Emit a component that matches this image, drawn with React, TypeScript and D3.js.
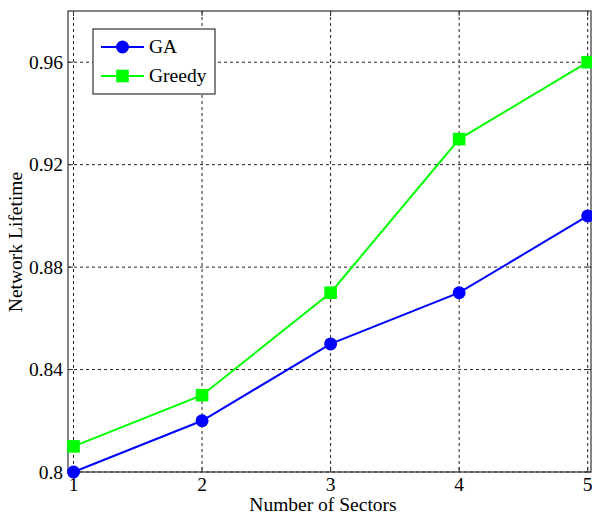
import React from "react";
import * as d3 from "d3";

const sectors = [1, 2, 3, 4, 5];
const gaValues = [0.8, 0.82, 0.85, 0.87, 0.9];
const greedyValues = [0.81, 0.83, 0.87, 0.93, 0.96];
const yTicks = [0.8, 0.84, 0.88, 0.92, 0.96];
const xTicks = [1, 2, 3, 4, 5];

const W = 592;
const H = 516;
const frame = { left: 68, right: 591, top: 11, bottom: 472 };
const font = "'Liberation Serif', 'Times New Roman', serif";
const fs = 19.5;

export default function App() {
  const x = d3.scaleLinear().domain([1, 5]).range([73.5, 587.7]);
  const y = d3.scaleLinear().domain([0.8, 0.98]).range([472, 11]);
  const line = d3
    .line<number>()
    .x((_, i) => x(sectors[i]))
    .y((v) => y(v));

  const fmtY = (v: number) => (v === 0.8 ? "0.8" : v.toFixed(2));

  return (
    <svg
      width={W}
      height={H}
      style={{ position: "absolute", left: 0, top: 0, background: "#fff" }}
      fontFamily={font}
    >
      <rect x={0} y={0} width={W} height={H} fill="#fff" />
      {/* grid */}
      {xTicks.map((t) => (
        <line
          key={"gx" + t}
          x1={x(t)}
          x2={x(t)}
          y1={frame.top}
          y2={frame.bottom}
          stroke="#222"
          strokeWidth={1}
          strokeDasharray="3,3"
        />
      ))}
      {yTicks.map((t) => (
        <line
          key={"gy" + t}
          x1={frame.left}
          x2={frame.right}
          y1={y(t)}
          y2={y(t)}
          stroke="#222"
          strokeWidth={1}
          strokeDasharray="3,3"
        />
      ))}
      {/* frame */}
      <rect
        x={frame.left}
        y={frame.top}
        width={frame.right - frame.left}
        height={frame.bottom - frame.top}
        fill="none"
        stroke="#333"
        strokeWidth={1.2}
      />
      {/* ticks */}
      {xTicks.map((t) => (
        <g key={"tx" + t}>
          <line x1={x(t)} x2={x(t)} y1={frame.bottom} y2={frame.bottom - 5} stroke="#333" />
          <line x1={x(t)} x2={x(t)} y1={frame.top} y2={frame.top + 5} stroke="#333" />
          <text x={x(t)} y={491} textAnchor="middle" fontSize={fs} fill="#000">
            {t}
          </text>
        </g>
      ))}
      {yTicks.map((t) => (
        <g key={"ty" + t}>
          <line x1={frame.left} x2={frame.left + 5} y1={y(t)} y2={y(t)} stroke="#333" />
          <line x1={frame.right} x2={frame.right - 5} y1={y(t)} y2={y(t)} stroke="#333" />
          <text x={frame.left - 5} y={y(t) + 6.5} textAnchor="end" fontSize={fs} fill="#000">
            {fmtY(t)}
          </text>
        </g>
      ))}
      {/* series */}
      <path d={line(greedyValues) || ""} fill="none" stroke="#00ff00" strokeWidth={2} />
      <path d={line(gaValues) || ""} fill="none" stroke="#0000ff" strokeWidth={2} />
      {greedyValues.map((v, i) => (
        <rect key={"gs" + i} x={x(sectors[i]) - 6.3} y={y(v) - 6.3} width={12.6} height={12.6} fill="#00ff00" />
      ))}
      {gaValues.map((v, i) => (
        <circle key={"gc" + i} cx={x(sectors[i])} cy={y(v)} r={6.5} fill="#0000ff" />
      ))}
      {/* axis labels */}
      <text x={323} y={511} textAnchor="middle" fontSize={fs} fill="#000">
        Number of Sectors
      </text>
      <text
        transform={`translate(22,242) rotate(-90)`}
        textAnchor="middle"
        fontSize={fs}
        fill="#000"
      >
        Network Lifetime
      </text>
      {/* legend */}
      <g>
        <rect x={93} y={29} width={122} height={65} fill="#fff" stroke="#333" strokeWidth={1.2} />
        <line x1={101} x2={144} y1={47} y2={47} stroke="#0000ff" strokeWidth={2} />
        <circle cx={122.5} cy={47} r={6.5} fill="#0000ff" />
        <text x={149} y={52.5} fontSize={fs} fill="#000">
          GA
        </text>
        <line x1={101} x2={144} y1={76} y2={76} stroke="#00ff00" strokeWidth={2} />
        <rect x={116.2} y={69.7} width={12.6} height={12.6} fill="#00ff00" />
        <text x={149} y={82} fontSize={fs} fill="#000">
          Greedy
        </text>
      </g>
    </svg>
  );
}
